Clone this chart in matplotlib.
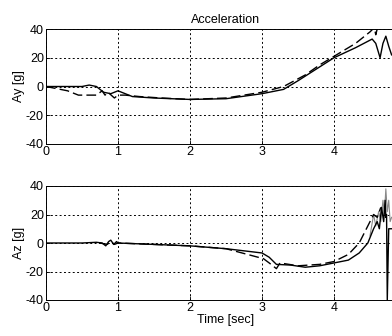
import matplotlib
matplotlib.use("Agg")
import matplotlib.pyplot as plt

plt.rcParams['font.family'] = ['Liberation Sans', 'DejaVu Sans']
plt.rcParams['axes.unicode_minus'] = False

# Ay data
ay_solid_t = [0, 0.3, 0.5, 0.6, 0.7, 0.8, 0.9, 1.0, 1.05, 1.2, 1.5, 2.0, 2.5, 3.0, 3.3, 3.5, 3.75, 4.0, 4.3, 4.53, 4.58, 4.64, 4.68, 4.72, 4.76, 4.8]
ay_solid_v = [0, 0, 0, 1, 0, -4, -5, -3, -4, -7, -8, -9, -8.5, -5, -2, 4, 12, 20, 27, 33, 30, 20, 30, 35, 28, 22]
ay_dash_t = [0, 0.3, 0.45, 0.7, 0.78, 0.82, 0.86, 0.95, 1.0, 1.1, 1.3, 1.6, 2.0, 2.5, 3.0, 3.3, 3.6, 3.8, 4.0, 4.3, 4.5, 4.56, 4.58, 4.6, 4.62]
ay_dash_v = [0, -3, -6, -6, -3, -6, -4, -8, -6, -6, -7, -8, -9, -8, -4, 0, 8, 15, 21, 30, 38, 41, 36, 40, 37]

# Az data
az_solid_t = [0, 0.5, 0.7, 0.78, 0.83, 0.87, 0.9, 0.94, 0.98, 1.0, 1.5, 2.0, 2.5, 3.0, 3.1, 3.2, 3.4, 3.6, 3.8, 4.0, 4.2, 4.35, 4.47, 4.55, 4.6, 4.63, 4.66, 4.69, 4.71, 4.72, 4.73, 4.74, 4.76, 4.8]
az_solid_v = [0, 0, 0.5, 0, -2, 1, 2, -1, 1, 0, -1, -2, -4, -7, -10, -15, -15.5, -17, -16, -14, -12, -7, 0, 10, 15, 10, 25, 15, 30, 18, 20, -40, 10, 10]
az_dash_t = [0.75, 0.85, 0.9, 0.95, 1.0, 1.5, 2.0, 2.5, 3.02, 3.1, 3.2, 3.25, 3.5, 3.8, 4.0, 4.2, 4.35, 4.45, 4.55, 4.6, 4.65]
az_dash_v = [0, -1, 1, -1, 0, -1, -2, -4, -11, -14, -18, -14, -16, -15, -13, -8, 0, 10, 20, 18, 25]
az_gray_t = [4.5, 4.55, 4.58, 4.62, 4.65, 4.68, 4.7, 4.72, 4.74, 4.76, 4.78, 4.8]
az_gray_v = [5, 20, 12, 22, 15, 30, 20, 38, 22, 30, 15, 18]

xticks = [0, 1, 2, 3, 4]
yticks = [-40, -20, 0, 20, 40]

W, H = 392, 336
fig = plt.figure(figsize=(W / 100, H / 100), dpi=100)

def pos(x0, y0, x1, y1):
    return [x0 / W, 1 - y1 / H, (x1 - x0) / W, (y1 - y0) / H]

ax1 = fig.add_axes(pos(46, 29, 406, 144))
ax2 = fig.add_axes(pos(46, 186, 406, 300))

dash = (0, (7, 3))
for ax in (ax1, ax2):
    ax.set_xlim(0, 5)
    ax.set_ylim(-40, 40)
    ax.set_xticks(xticks)
    ax.set_yticks(yticks)
    ax.grid(True, color='black', linestyle=(0, (2, 2.5)), linewidth=0.7)
    ax.tick_params(direction='in', length=3, width=0.6, labelsize=9, pad=1.5)
    for s in ax.spines.values():
        s.set_linewidth(0.7)

ax1.plot(ay_dash_t, ay_dash_v, color='black', linestyle=dash, linewidth=1.0)
ax1.plot(ay_solid_t, ay_solid_v, color='black', linewidth=1.0)
ax2.plot(az_gray_t, az_gray_v, color='#888888', linewidth=0.8)
ax2.plot(az_dash_t, az_dash_v, color='black', linestyle=dash, linewidth=1.0)
ax2.plot(az_solid_t, az_solid_v, color='black', linewidth=1.0)

ax1.set_title('Acceleration', fontsize=9, pad=4)
ax1.set_ylabel('Ay [g]', fontsize=9, labelpad=1)
ax2.set_ylabel('Az [g]', fontsize=9, labelpad=1)
ax2.set_xlabel('Time [sec]', fontsize=9, labelpad=0)

fig.savefig('out.png', dpi=100)
